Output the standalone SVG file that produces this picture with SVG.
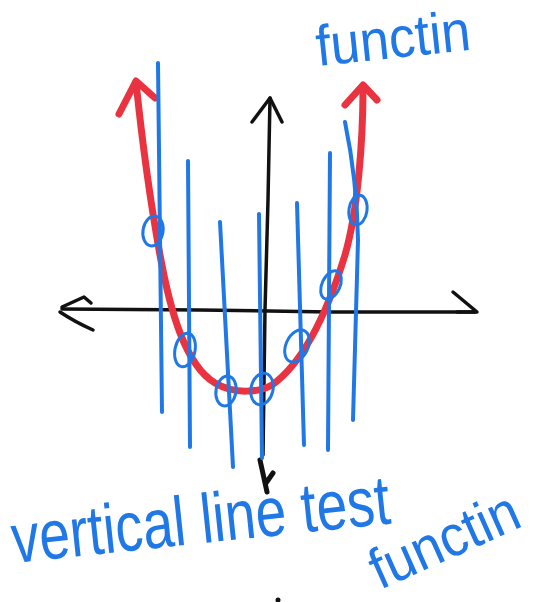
<svg xmlns="http://www.w3.org/2000/svg" width="533" height="602" viewBox="0 0 533 602">
<style>
.bl{fill:none;stroke:#1f78e6;stroke-width:4;stroke-linecap:round;stroke-linejoin:round}
.rd{fill:none;stroke:#ea3340;stroke-width:7;stroke-linecap:round;stroke-linejoin:round}
.bk{fill:none;stroke:#111;stroke-width:3.5;stroke-linecap:round;stroke-linejoin:round}
.tx{fill:#1f78e6;font-family:"Liberation Sans",Arial,sans-serif}
</style>
<rect width="533" height="602" fill="#fff"/>
<g id="axes">
<path class="bk" d="M62,309 L200,310 L330,312 L475,312"/>
<path class="bk" d="M62,307 L84,297 L91,303 M60,312 Q75,322 93,330"/>
<path class="bk" d="M453,292 L477,312 L457,312"/>
<path class="bk" d="M270,98 L268,200 L265,310 L263,455"/>
<path class="bk" d="M252,122 L270,98 L282,122"/>
<path class="bk" style="stroke-width:5" d="M260,460 L267,492 M266,483 L273,473"/>
<circle cx="278" cy="600" r="2.5" fill="#111"/>
</g>
<g id="parabola">
<path class="rd" d="M136,82 C142,140 150,200 160,255 C170,310 185,365 215,383 C235,395 260,392 272,385 C300,365 325,320 345,255 C358,210 363,140 363,88"/>
<path class="rd" d="M119,114 L136,81 L155,98"/>
<path class="rd" d="M345,105 L363,85 L377,100"/>
</g>
<g id="vertical-lines">
<path class="bl" d="M158,63 L162,412"/>
<path class="bl" d="M188,161 L190,447"/>
<path class="bl" d="M220,222 L233,467"/>
<path class="bl" d="M259,214 L262,458"/>
<path class="bl" d="M297,203 L304,445"/>
<path class="bl" d="M330,153 L328,450"/>
<path class="bl" d="M345,122 Q357,180 358,240 L353,420"/>
</g>
<g id="intersections">
<ellipse class="bl" style="stroke-width:3" cx="153" cy="231" rx="10" ry="15" transform="rotate(10 153 231)"/>
<ellipse class="bl" style="stroke-width:3" cx="185" cy="350" rx="10" ry="17" transform="rotate(12 185 350)"/>
<ellipse class="bl" style="stroke-width:3" cx="226" cy="391" rx="10" ry="15" transform="rotate(10 226 391)"/>
<ellipse class="bl" style="stroke-width:3" cx="262" cy="389" rx="11" ry="16" transform="rotate(12 262 389)"/>
<ellipse class="bl" style="stroke-width:3" cx="297" cy="346" rx="11" ry="17" transform="rotate(25 297 346)"/>
<ellipse class="bl" style="stroke-width:3" cx="331" cy="285" rx="9" ry="15" transform="rotate(25 331 285)"/>
<ellipse class="bl" style="stroke-width:3" cx="358" cy="210" rx="9" ry="15" transform="rotate(8 358 210)"/>
</g>
<g id="labels">
<text class="tx" x="0" y="0" font-size="46" textLength="155" lengthAdjust="spacingAndGlyphs" transform="translate(318 66) rotate(-6) scale(1 1.25)">functin</text>
<text class="tx" x="0" y="0" font-size="56" textLength="380" lengthAdjust="spacingAndGlyphs" transform="translate(14 563) rotate(-6) scale(1 1.25)">vertical line test</text>
<text class="tx" x="0" y="0" font-size="46" textLength="158" lengthAdjust="spacingAndGlyphs" transform="translate(380 590) rotate(-24) scale(1 1.25)">functin</text>
</g>
</svg>
